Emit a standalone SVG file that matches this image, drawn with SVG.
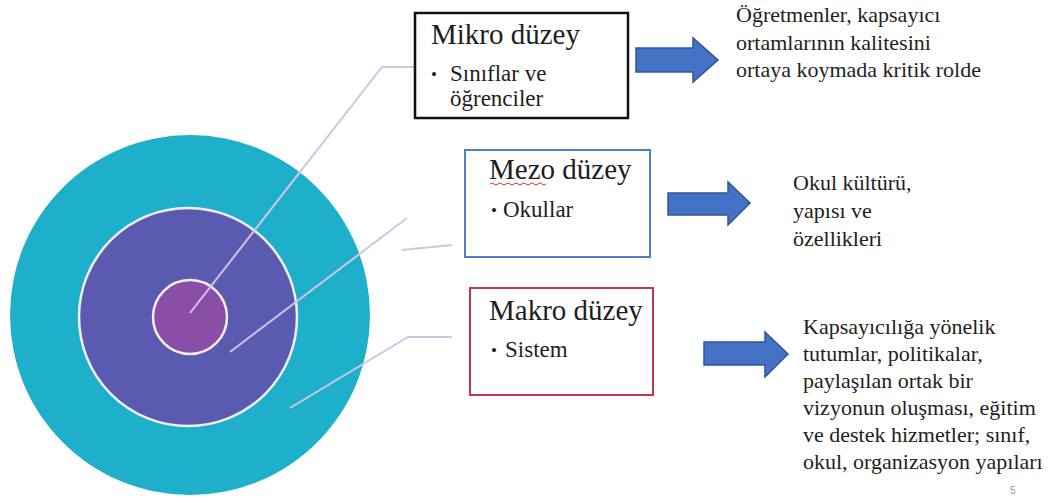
<svg xmlns="http://www.w3.org/2000/svg" width="1058" height="503" viewBox="0 0 1058 503">
<style>
  .t{font-family:"Liberation Serif","Times New Roman",serif;fill:#1e1e1e}
  .title{font-size:29px}
  .item{font-size:23px}
  .bul{font-size:17px}
  .desc{font-size:22px}
  .lead{fill:none;stroke:#cdc6e4;stroke-width:2}
  .arrow{fill:#4472c4;stroke:#2f5597;stroke-width:1.5}
  .ring{stroke:#f2eef8;stroke-width:2.5}
</style>
<rect width="1058" height="503" fill="#ffffff"/>
<g id="circles">
  <circle cx="190" cy="315" r="180" fill="#1eb0ca"/>
  <circle class="ring" cx="188" cy="317" r="109" fill="#5a5bb0"/>
  <circle class="ring" cx="190" cy="317" r="37" fill="#8b4ea6"/>
</g>
<g id="connectors">
  <polyline class="lead" points="190,313 382,67 418,67"/>
  <line class="lead" x1="230" y1="352" x2="407" y2="218"/>
  <line class="lead" x1="402" y1="250" x2="452" y2="245"/>
  <polyline class="lead" points="290,408 408,337 452,337"/>
</g>
<g id="mikro">
  <rect x="415" y="13" width="213" height="105" fill="#fff" stroke="#111" stroke-width="2.5"/>
  <text class="t title" x="431" y="44">Mikro düzey</text>
  <text class="t bul" x="431" y="80">•</text>
  <text class="t item" x="450" y="81">Sınıflar ve</text>
  <text class="t item" x="450" y="106">öğrenciler</text>
</g>
<g id="mezo">
  <rect x="465" y="150" width="185" height="107" fill="#fff" stroke="#4f81bd" stroke-width="2"/>
  <text class="t title" x="489" y="179">Mezo düzey</text>
  <path d="M490,184 q2,-2 4,0 t4,0 t4,0 t4,0 t4,0 t4,0 t4,0 t4,0 t4,0 t4,0 t4,0 t4,0 t4,0 t4,0" fill="none" stroke="#e03030" stroke-width="1"/>
  <text class="t bul" x="491" y="216">•</text>
  <text class="t item" x="503" y="217">Okullar</text>
</g>
<g id="makro">
  <rect x="470" y="288" width="183" height="107" fill="#fff" stroke="#c0394a" stroke-width="2"/>
  <text class="t title" x="489" y="320">Makro düzey</text>
  <text class="t bul" x="491" y="356">•</text>
  <text class="t item" x="505" y="357">Sistem</text>
</g>
<g id="arrow1">
  <polygon class="arrow" points="636,48 693,48 693,38 718,60 693,82 693,72 636,72"/>
</g>
<g id="arrow2">
  <polygon class="arrow" points="668,193 728,193 728,182 750,203 728,225 728,215 668,215"/>
</g>
<g id="arrow3">
  <polygon class="arrow" points="704,342 765,342 765,332 788,354 765,377 765,365 704,365"/>
</g>
<g id="desc1">
  <text class="t desc" x="736" y="22">Öğretmenler, kapsayıcı</text>
  <text class="t desc" x="736" y="50">ortamlarının kalitesini</text>
  <text class="t desc" x="736" y="77">ortaya koymada kritik rolde</text>
</g>
<g id="desc2">
  <text class="t desc" x="793" y="190">Okul kültürü,</text>
  <text class="t desc" x="793" y="218">yapısı ve</text>
  <text class="t desc" x="793" y="246">özellikleri</text>
</g>
<g id="desc3">
  <text class="t desc" x="803" y="334">Kapsayıcılığa yönelik</text>
  <text class="t desc" x="803" y="361">tutumlar, politikalar,</text>
  <text class="t desc" x="803" y="388">paylaşılan ortak bir</text>
  <text class="t desc" x="803" y="415">vizyonun oluşması, eğitim</text>
  <text class="t desc" x="803" y="442">ve destek hizmetler; sınıf,</text>
  <text class="t desc" x="803" y="469">okul, organizasyon yapıları</text>
</g>
<text x="1010" y="494" font-family="Liberation Sans, Arial, sans-serif" font-size="10" fill="#999">5</text>
</svg>
